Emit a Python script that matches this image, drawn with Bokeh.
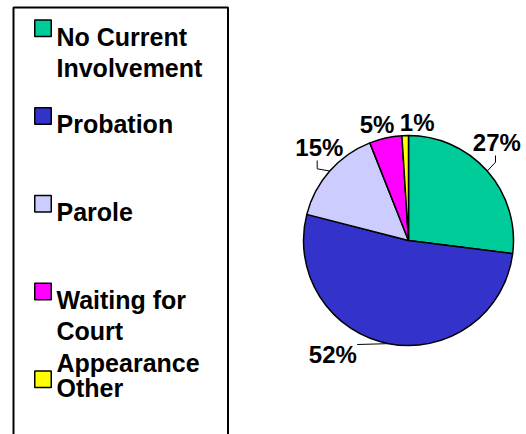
import numpy as np
from bokeh.plotting import figure
from bokeh.models import Range1d, ColumnDataSource
from bokeh.core.properties import value
from bokeh.embed import file_html
from bokeh.resources import INLINE

# ---- data ----
categories = ["No Current Involvement", "Probation", "Parole",
              "Waiting for Court Appearance", "Other"]
legend_lines = [["No Current", "Involvement"], ["Probation"], ["Parole"],
                ["Waiting for", "Court", "Appearance"], ["Other"]]
values = [27, 52, 15, 5, 1]
colors = ["#00CC99", "#3333CC", "#CCCCFF", "#FF00FF", "#FFFF00"]

# ---- style / layout ----
W, H = 526, 434
CX, CY, R = 408, H - 240, 105
FONT = value("Liberation Sans")
# label anchor (dx right, dy down, relative to pie centre; baseline)
label_off = [(88.3, -98.5), (-75.7, 113.5), (-89.2, -93.5), (-31.5, -116.5), (8.7, -118.5)]
# leader lines: extra points after the wedge edge point (dx, dy down)
leader_pts = [[(87, -78.3), (87, -85)], [(-51.3, 104)], [(-91.3, -71.7), (-91.3, -80)], [], []]

p = figure(width=W, height=H, x_range=Range1d(0, W), y_range=Range1d(0, H),
           output_backend="svg", toolbar_location=None, min_border=0,
           x_axis_type=None, y_axis_type=None)
p.grid.visible = False
p.outline_line_color = None
p.background_fill_color = "white"
p.border_fill_color = "white"

vals = np.array(values, dtype=float)
frac = vals / vals.sum()
cum = np.concatenate([[0], np.cumsum(frac)])
starts = np.pi / 2 - 2 * np.pi * cum[:-1]
ends = np.pi / 2 - 2 * np.pi * cum[1:]
mids = (starts + ends) / 2

src = ColumnDataSource(dict(start=starts, end=ends, color=colors, cat=categories))
p.wedge(x=CX, y=CY, radius=R, start_angle="start", end_angle="end",
        direction="clock", fill_color="color", line_color="black",
        line_width=1.5, source=src)

# leader lines
for i, pts in enumerate(leader_pts):
    if not pts:
        continue
    xs = [CX + R * np.cos(mids[i])] + [CX + dx for dx, dy in pts]
    ys = [CY + R * np.sin(mids[i])] + [CY - dy for dx, dy in pts]
    p.line(xs, ys, line_color="black", line_width=1)

# percentage labels
lbl = [f"{v:g}%" for v in values]
p.text(x=[CX + dx for dx, dy in label_off], y=[CY - dy for dx, dy in label_off],
       text=lbl, text_font=FONT, text_font_style="bold", text_font_size="24px",
       text_align="center", text_baseline="alphabetic", text_color="black")

# legend box
p.quad(left=13, right=227.5, top=H - 7, bottom=-20, fill_color=None,
       line_color="black", line_width=2)

item_gap, line_gap = 87.75, 31.5
base0 = H - 36
sq_x, sq_y, tx, ty, tt = [], [], [], [], []
for i, lines in enumerate(legend_lines):
    b = base0 - item_gap * i
    sq_x.append(42.5)
    sq_y.append(b + 8.3)
    for j, t in enumerate(lines):
        tx.append(56)
        ty.append(b - line_gap * j)
        tt.append(t)
p.rect(x=sq_x, y=sq_y, width=16.5, height=16.5, fill_color=colors,
       line_color="black", line_width=1.5)
p.text(x=tx, y=ty, text=tt, text_font=FONT, text_font_style="bold",
       text_font_size="25px", text_align="left", text_baseline="alphabetic",
       text_color="black")

open("out.html", "w").write(file_html(p, INLINE))
